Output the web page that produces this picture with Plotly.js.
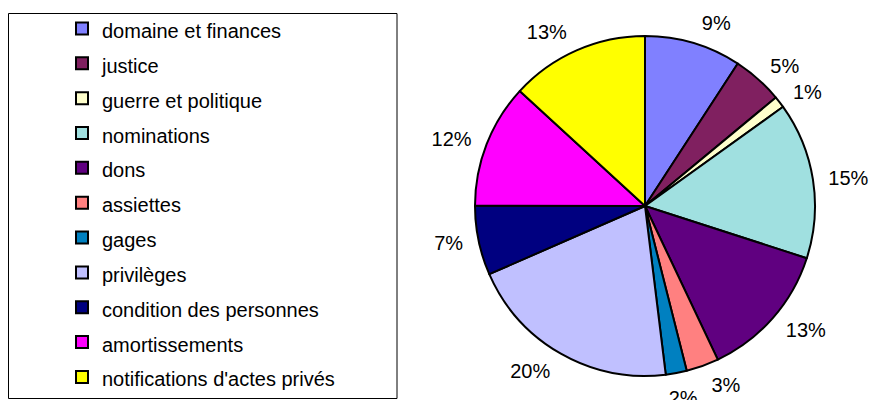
<!DOCTYPE html>
<html>
<head>
<meta charset="utf-8">
<script src="https://cdn.plot.ly/plotly-3.0.1.min.js"></script>
<style>
html,body{margin:0;padding:0;background:#fff;}
#chart{width:869px;height:400px;}
</style>
</head>
<body>
<div id="chart"></div>
<script>
const categories = ["domaine et finances","justice","guerre et politique","nominations","dons","assiettes","gages","privilèges","condition des personnes","amortissements","notifications d'actes privés"];
const shares = [9.2, 4.8, 1.1, 14.9, 13.0, 3.1, 2.0, 20.4, 6.6, 11.8, 13.2];
const colors = ["#8080FF","#802060","#FFFFCC","#A0E0E0","#600080","#FF8080","#0080C0","#C0C0FF","#000080","#FF00FF","#FFFF00"];

const W = 869, H = 400;
const cx = 645, cy = 206, r = 170, labelGap = 10;
const FONT = 'Liberation Sans, Arial, sans-serif';
const PCT = '%{percent:.0%}';
// this label sits below-left of its neighbour in the reference, so it is drawn by its own label layer
const soloLabel = 'gages';

function domainFor(rad, ox, oy) {
  const x0 = cx + (ox || 0), y0 = cy + (oy || 0);
  return {x: [(x0 - rad) / W, (x0 + rad) / W], y: [(H - y0 - rad) / H, (H - y0 + rad) / H]};
}

// visible pie (slices + legend)
const pie = {
  type: 'pie',
  labels: categories.map(c => '<span style="font-size:20px">' + c + '</span>'),
  values: shares,
  sort: false,
  direction: 'clockwise',
  rotation: 0,
  marker: {colors: colors, line: {color: '#000', width: 2}},
  textinfo: 'none',
  hoverinfo: 'label+percent',
  domain: domainFor(r)
};

// transparent slightly larger pies carrying the percentage labels a little away from the edge
function labelLayer(templates, ox, oy) {
  return {
    type: 'pie',
    labels: categories,
    values: shares,
    sort: false,
    direction: 'clockwise',
    rotation: 0,
    marker: {colors: categories.map(() => 'rgba(0,0,0,0)'), line: {width: 0}},
    textposition: 'outside',
    texttemplate: templates,
    textfont: {family: FONT, size: 20, color: '#000'},
    showlegend: false,
    hoverinfo: 'skip',
    domain: domainFor(r + labelGap, ox, oy)
  };
}
const mainLabels = labelLayer(categories.map(c => c === soloLabel ? '' : PCT), 0, 0);
const soloLabels = labelLayer(categories.map(c => c === soloLabel ? PCT : ''), -15, 4);

const layout = {
  width: W, height: H,
  margin: {l: 0, r: 0, t: 0, b: 0},
  paper_bgcolor: '#fff',
  showlegend: true,
  font: {family: FONT, color: '#000'},
  legend: {
    x: 62 / W, xanchor: 'left',
    y: (H - 8.6) / H, yanchor: 'top',
    bgcolor: 'rgba(0,0,0,0)', borderwidth: 0,
    font: {family: FONT, size: 24.5, color: '#000'},
    traceorder: 'normal'
  },
  shapes: [{
    type: 'rect', xref: 'paper', yref: 'paper',
    x0: 8.5 / W, x1: 397 / W, y0: (H - 398.5) / H, y1: (H - 13.5) / H,
    line: {color: '#000', width: 1}, fillcolor: 'rgba(0,0,0,0)', layer: 'below'
  }]
};

Plotly.newPlot('chart', [pie, mainLabels, soloLabels], layout, {displayModeBar: false, staticPlot: true});
</script>
</body>
</html>
